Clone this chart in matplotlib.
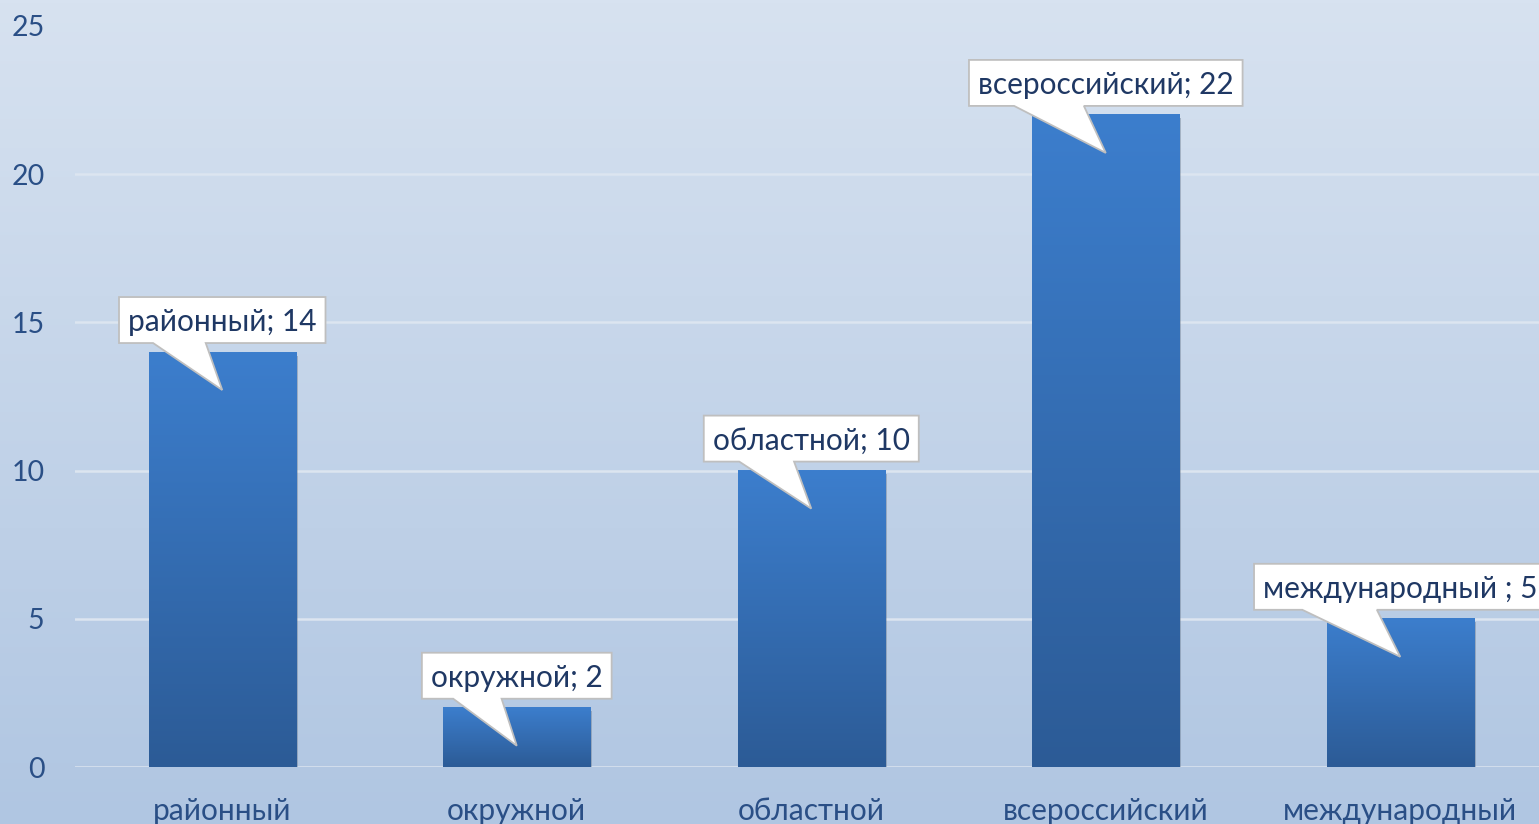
import numpy as np
import matplotlib
matplotlib.use("Agg")
import matplotlib.pyplot as plt
from matplotlib.patches import Polygon, Rectangle
from matplotlib.transforms import IdentityTransform
from matplotlib.colors import LinearSegmentedColormap

categories = ["районный", "окружной", "областной", "всероссийский", "международный"]
values = [14, 2, 10, 22, 5]
label_names = ["районный", "окружной", "областной", "всероссийский", "международный "]
yticks = [0, 5, 10, 15, 20, 25]
grid_values = [0, 5, 10, 15, 20]

W, H = 1539, 824
DPI = 100
plt.rcParams['font.family'] = ['Lato', 'DejaVu Sans']

fig = plt.figure(figsize=(W / DPI, H / DPI), dpi=DPI)

# background gradient
bg = fig.add_axes([0, 0, 1, 1], zorder=-10)
top_c = np.array([215, 226, 240]) / 255
bot_c = np.array([176, 198, 226]) / 255
t = np.linspace(0, 1, 256)[:, None]
grad = (bot_c[None, :] * (1 - t) + top_c[None, :] * t)[:, None, :]
bg.imshow(grad, aspect='auto', extent=[0, 1, 0, 1], origin='lower')
bg.axis('off')

left_px, zero_px = 75, 767
ax = fig.add_axes([left_px / W, (H - zero_px) / H, (W - left_px) / W, zero_px / H])
ax.patch.set_alpha(0)
x = np.arange(len(categories))
for s in ax.spines.values():
    s.set_visible(False)

tick_color = '#2A4F86'
ax.set_yticks(yticks)
ax.set_yticklabels([str(v) for v in yticks])
ax.set_xticks(x)
ax.set_xticklabels(categories)
ax.tick_params(axis='y', length=0, pad=22, labelsize=20.5, labelcolor=tick_color)
ax.tick_params(axis='x', length=0, pad=21.5, labelsize=21.5, labelcolor=tick_color)

for g in grid_values:
    ax.axhline(g, color='#DCE5F0', lw=1.8, zorder=1)

cmap = LinearSegmentedColormap.from_list('bar', ['#2C5B96', '#3C7ECD'])
bw = 0.5
gimg = np.linspace(0, 1, 256)[:, None]
for xi, v in zip(x, values):
    ax.add_patch(Rectangle((xi - bw / 2 + 0.006, -0.12), bw, v, color='#55657a', alpha=0.35,
                           zorder=2, lw=0))
    ax.imshow(gimg, cmap=cmap, aspect='auto', origin='lower',
              extent=[xi - bw / 2, xi + bw / 2, 0, v], zorder=3, interpolation='bilinear')
ax.set_xlim(-0.5, 4.471)
ax.set_ylim(0, 25.877)

fig.canvas.draw()
renderer = fig.canvas.get_renderer()
idt = IdentityTransform()
box_h = 46
gap = 9
tip_depth = 38
pad = 9
for xi, v, name in zip(x, values, label_names):
    px, py = ax.transData.transform((xi, v))
    B = py + gap
    T = B + box_h
    txt = fig.text(px / W, (B + box_h / 2 - 2) / H, f"{name}; {v}",
                   ha='center', va='center', fontsize=21.5, color='#1F3864', zorder=21)
    bb = txt.get_window_extent(renderer)
    bw_px = bb.width + 2 * pad
    L = px - bw_px / 2
    R = px + bw_px / 2
    pts = [(L, B), (L + 0.165 * bw_px, B), (px, py - tip_depth), (L + 0.42 * bw_px, B),
           (R, B), (R, T), (L, T)]
    poly = Polygon(pts, closed=True, transform=idt, facecolor='white', edgecolor='#BFBFBF',
                   lw=1.3, zorder=20)
    fig.add_artist(poly)

fig.savefig('out.png', dpi=DPI)
